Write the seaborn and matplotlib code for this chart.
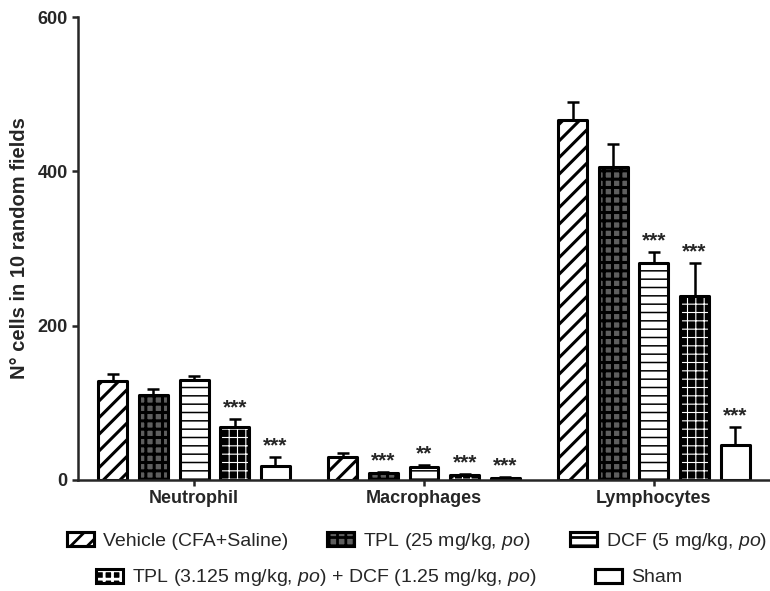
import numpy as np
import pandas as pd
import matplotlib
matplotlib.use('Agg')
import matplotlib.pyplot as plt
import matplotlib.patches as mpatches
from matplotlib.legend_handler import HandlerTuple
import seaborn as sns

# values (mean and upper SEM)
cell_types = ['Neutrophil', 'Macrophages', 'Lymphocytes']
groups = ['Vehicle (CFA+Saline)',
          'TPL (25 mg/kg, $\\it{po}$)',
          'DCF (5 mg/kg, $\\it{po}$)',
          'TPL (3.125 mg/kg, $\\it{po}$) + DCF (1.25 mg/kg, $\\it{po}$)',
          'Sham']

neutrophil_mean = [128, 110, 129, 69, 18]
neutrophil_sem = [10, 8, 6, 10, 12]
macrophage_mean = [30, 9, 17, 6, 3]
macrophage_sem = [5, 2, 3, 1.5, 1]
lymphocyte_mean = [466, 405, 281, 239, 45]
lymphocyte_sem = [24, 31, 15, 42, 24]

neutrophil_sig = ['', '', '', '***', '***']
macrophage_sig = ['', '***', '**', '***', '***']
lymphocyte_sig = ['', '', '***', '***', '***']

means = [neutrophil_mean, macrophage_mean, lymphocyte_mean]
sems = [neutrophil_sem, macrophage_sem, lymphocyte_sem]
sigs = [neutrophil_sig, macrophage_sig, lymphocyte_sig]

rows = []
for c, cell in enumerate(cell_types):
    for g, grp in enumerate(groups):
        rows.append({'cell': cell, 'group': grp, 'count': means[c][g], 'sem': sems[c][g], 'sig': sigs[c][g]})
df = pd.DataFrame(rows)

sns.set_style('ticks')
plt.rcParams['font.family'] = ['Liberation Sans', 'DejaVu Sans']
plt.rcParams['mathtext.fontset'] = 'custom'
plt.rcParams['mathtext.rm'] = 'Liberation Sans'
plt.rcParams['mathtext.it'] = 'Liberation Sans:italic'
plt.rcParams['hatch.linewidth'] = 2.0

# bar styles: face, hatch colour, hatch, hatch lw
styles = [
    dict(face='white', hcol='black', hatch='//', hlw=2.2),
    dict(face='#5e5e5e', hcol='black', hatch='++', hlw=2.2),
    dict(face='white', hcol='black', hatch='--', hlw=1.1),
    dict(face='black', hcol='white', hatch='++', hlw=0.8),
    dict(face='white', hcol='black', hatch='', hlw=1.0),
]
edge_lw = 2.2

fig = plt.figure(figsize=(7.7, 5.91), dpi=100)
ax = fig.add_axes([78 / 770, 1 - 480 / 591, 1 - 78 / 770, (480 - 17) / 591])

sns.barplot(data=df, x='cell', y='count', hue='group', order=cell_types, hue_order=groups,
            palette=['white'] * 5, width=0.885, gap=0.29, errorbar=None, legend=False,
            edgecolor='black', linewidth=edge_lw, ax=ax)


def style_patch(p, st):
    p.set_facecolor(st['face'])
    p.set_edgecolor(st['hcol'])
    p.set_hatch(st['hatch'])
    if hasattr(p, 'set_hatch_linewidth'):
        p.set_hatch_linewidth(st['hlw'])
    if st['hcol'] != 'black':
        p.set_linewidth(0)
    else:
        p.set_linewidth(edge_lw)
    p.set_joinstyle('round')


bar_containers = list(ax.containers)
for g, container in enumerate(bar_containers):
    st = styles[g]
    xs, tops = [], []
    for bar in container:
        style_patch(bar, st)
        if st['hcol'] != 'black':
            ax.add_patch(mpatches.Rectangle(bar.get_xy(), bar.get_width(), bar.get_height(),
                                            fill=False, edgecolor='black', lw=edge_lw,
                                            joinstyle='round', zorder=bar.get_zorder() + 0.1))
        xs.append(bar.get_x() + bar.get_width() / 2)
        tops.append(bar.get_height())
    errs = [sems[c][g] for c in range(len(cell_types))]
    ax.errorbar(xs, tops, yerr=[np.zeros(len(errs)), errs], fmt='none', ecolor='black',
                elinewidth=1.8, capsize=4.3, capthick=1.8, zorder=0.5)
    for c in range(len(cell_types)):
        s = sigs[c][g]
        if s:
            ax.annotate(s, (xs[c], tops[c] + errs[c]), xytext=(0, 1), textcoords='offset points',
                        ha='center', va='bottom', fontsize=15, fontweight='bold')

ax.set_xlim(-0.505, 2.505)
ax.set_ylim(0, 600)
ax.set_yticks([0, 200, 400, 600])
ax.set_xlabel('')
ax.set_ylabel('N° cells in 10 random fields', fontsize=14.5, fontweight='bold', labelpad=6)
sns.despine(ax=ax)
for sp in ['left', 'bottom']:
    ax.spines[sp].set_linewidth(1.8)
ax.tick_params(axis='both', width=1.8, length=4.5, labelsize=13, pad=3)
for lab in ax.get_xticklabels() + ax.get_yticklabels():
    lab.set_fontweight('bold')


def make_handle(st):
    base = mpatches.Rectangle((0, 0), 1, 1, facecolor=st['face'], edgecolor=st['hcol'],
                              hatch=st['hatch'], lw=0 if st['hcol'] != 'black' else edge_lw)
    outline = mpatches.Rectangle((0, 0), 1, 1, fill=False, edgecolor='black', lw=edge_lw,
                                 joinstyle='round')
    return (base, outline)


handles = [make_handle(st) for st in styles]
leg_kw = dict(frameon=False, fontsize=14, handlelength=1.4, handleheight=0.75,
              handletextpad=0.45, handler_map={tuple: HandlerTuple(ndivide=1)})
leg1 = fig.legend(handles[:3], groups[:3], loc='center', ncol=3, columnspacing=2.0,
                  bbox_to_anchor=(417 / 770, 1 - 541 / 591), **leg_kw)
leg2 = fig.legend(handles[3:], groups[3:], loc='center', ncol=2, columnspacing=3.0,
                  bbox_to_anchor=(389 / 770, 1 - 578 / 591), **leg_kw)

fig.savefig('out.png', dpi=100)
